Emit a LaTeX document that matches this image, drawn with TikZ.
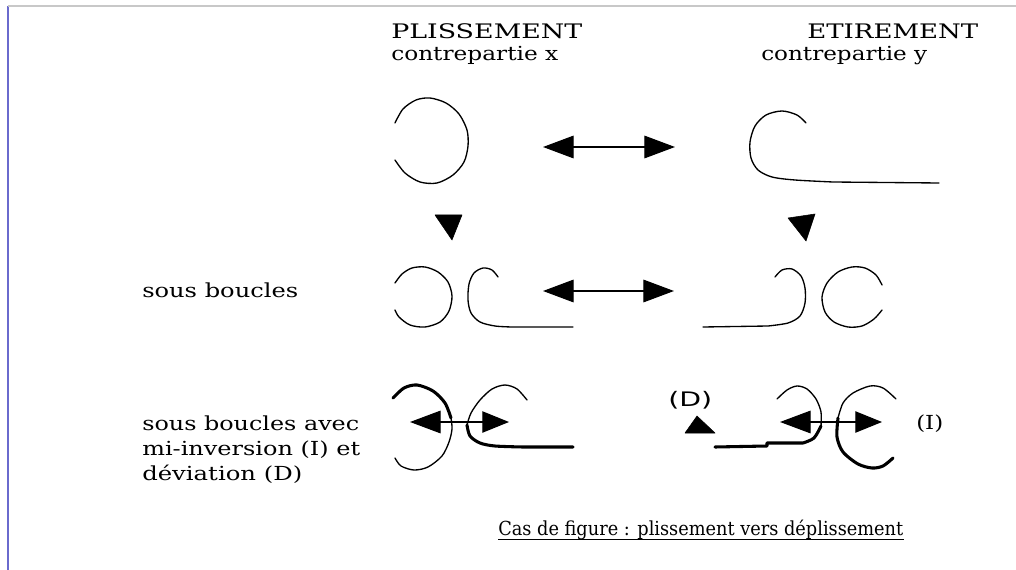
\documentclass[tikz,border=0pt]{standalone}
\usepackage{fontspec}
\setmainfont{DejaVu Serif}
\newfontfamily\tagsans{DejaVu Sans}
\usetikzlibrary{arrows.meta}

% set #2 and stretch it horizontally to the width #1
\newcommand\fitto[2]{%
  \setbox0\hbox{#2}%
  \edef\fitwd{\the\wd0}%
  \pgfmathparse{(#1)/(\fitwd)}%
  \edef\fitfac{\pgfmathresult}%
  \scalebox{\fitfac}[1]{\box0}}

\tikzset{
  lbl/.style={inner sep=0pt, anchor=base west, font=\fontsize{14.5}{17}\selectfont},
  ttl/.style={inner sep=0pt, anchor=base west, font=\fontsize{15}{18}\selectfont},
  curve/.style={line width=1pt, line join=round, line cap=round},
  heavy/.style={line width=2.3pt, line join=round, line cap=round},
  dbl/.style={line width=0.9pt, {Triangle[length=23pt,width=17pt]}-{Triangle[length=23pt,width=17pt]}},
  dblsm/.style={line width=0.9pt, {Triangle[length=23pt,width=17pt]}-{Triangle[length=20pt,width=16pt]}},
  tip/.style={fill=black, line join=round}
}

\begin{document}
\begin{tikzpicture}[x=0.75pt, y=-0.75pt]
\useasboundingbox (0,0) rectangle (1016,570);

% page edges
\coordinate (fcorner) at (8,6);
\coordinate (fbottom) at (8,570);
\coordinate (fright) at (1016,6);
\draw[color={rgb,255:red,106;green,106;blue,205}, line width=1pt] (fcorner) -- (fbottom);
\draw[color={rgb,255:red,200;green,200;blue,200}, line width=1pt] (fcorner) -- (fright);

% headings
\node[ttl] (plis) at (391,39) {\fitto{143.25pt}{PLISSEMENT}};
\node[lbl] (cx) at (391,61) {\fitto{125.25pt}{contrepartie x}};
\node[ttl] (etir) at (807,39) {\fitto{128.25pt}{ETIREMENT}};
\node[lbl] (cy) at (761,61) {\fitto{124.5pt}{contrepartie y}};

% row labels
\node[lbl] (sb) at (142,297) {\fitto{117pt}{sous boucles}};
\node[lbl] (sba) at (142,430) {\fitto{162.75pt}{sous boucles avec}};
\node[lbl] (sbb) at (142,455) {\fitto{163.5pt}{mi-inversion (I) et}};
\node[lbl] (sbc) at (142,480) {\fitto{120pt}{déviation (D)}};

% caption
\node[lbl] (cap) at (498,535) {\fitto{303.75pt}{Cas de figure : plissement vers déplissement}};
\draw[line width=0.8pt] ([yshift=-3.2pt]cap.base west) -- ([yshift=-3.2pt]cap.base east);

% ---- row 1 ----
\draw[curve] plot[smooth] coordinates {(395,123) (403,109) (416,100) (430,98) (446,103) (459,114) (467,130) (468,146) (464,162) (453,175) (437,183) (420,182) (405,173) (395,160)};
\coordinate (r1l) at (543,147);
\coordinate (r1r) at (675,147);
\draw[dbl] (r1l) -- (r1r);
\draw[curve] plot[smooth] coordinates {(806,123) (797,115) (782,111) (766,115) (755,126) (750,142) (751,158) (758,170) (772,177) (795,180) (833,182)} -- (939,183);

% down arrowheads
\draw[tip] (435,215) -- (462,215) -- (452,240) -- cycle;
\draw[tip] (788,218) -- (815,214) -- (806,241) -- cycle;

% ---- row 2 ----
\draw[curve] plot[smooth] coordinates {(395,283) (402,274) (412,268) (425,267) (438,272) (448,282) (452,296) (449,311) (440,322) (425,327) (410,325) (399,317) (395,310)};
\draw[curve] plot[smooth] coordinates {(498,277) (492,270) (483,268) (474,273) (469,284) (468,300) (471,313) (480,322) (495,326) (512,327)} -- (573,327);
\coordinate (r2l) at (543,291);
\coordinate (r2r) at (674,291);
\draw[dbl] (r2l) -- (r2r);
\draw[curve] (703,327) -- plot[smooth] coordinates {(768,326) (788,323) (800,316) (805,303) (805,288) (801,276) (792,269) (782,270) (775,277)};
\draw[curve] plot[smooth] coordinates {(882,285) (876,275) (865,268) (852,267) (838,272) (827,283) (822,297) (825,312) (834,322) (848,327) (862,326) (874,319) (882,310)};

% ---- row 3, left ----
\draw[heavy] plot[smooth] coordinates {(393,398) (404,388) (417,385) (433,391) (445,403) (451,418)};
\draw[curve] plot[smooth] coordinates {(451,418) (452,429) (449,442) (442,456) (428,467) (414,470) (401,466) (395,458)};
\draw[curve] plot[smooth] coordinates {(527,400) (517,389) (505,385) (492,389) (480,400) (471,413) (467,425)};
\draw[heavy] plot[smooth] coordinates {(467,425) (470,436) (480,443) (495,446) (523,447)} -- (573,447);
\coordinate (r3al) at (410,422);
\coordinate (r3ar) at (509,422);
\draw[dblsm] (r3al) -- (r3ar);

% ---- row 3, right ----
\node[inner sep=0pt, anchor=base west, font=\tagsans\fontsize{15}{18}\selectfont] (dtag) at (668,406) {\fitto{33pt}{(D)}};
\draw[tip] (685,433) -- (715,433) -- (697,416) -- cycle;
\draw[heavy] (715,447) -- (767,446) -- (767,443) -- plot[smooth] coordinates {(803,443) (814,438) (821,426)};
\draw[curve] plot[smooth] coordinates {(821,426) (821,412) (816,399) (807,389) (797,386) (787,390) (777,399)};
\draw[curve] plot[smooth] coordinates {(896,399) (883,388) (870,386) (853,393) (843,403) (838,418)};
\draw[heavy] plot[smooth] coordinates {(838,418) (837,437) (843,452) (858,464) (872,468) (883,466) (893,458)};
\coordinate (r3bl) at (780,422);
\coordinate (r3br) at (882,422);
\draw[dblsm] (r3bl) -- (r3br);
\node[lbl] (itag) at (916,429) {\fitto{20.25pt}{(I)}};
\end{tikzpicture}
\end{document}
